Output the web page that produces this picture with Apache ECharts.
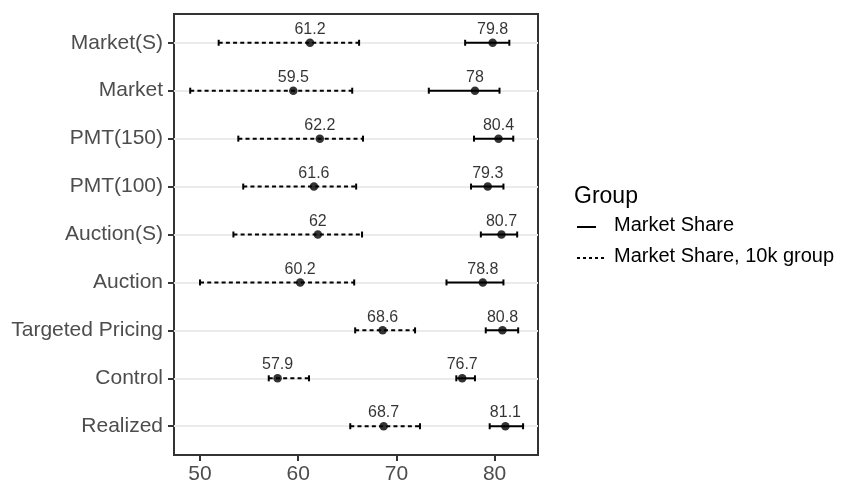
<!DOCTYPE html>
<html>
<head>
<meta charset="utf-8">
<script src="https://cdn.jsdelivr.net/npm/echarts@6/dist/echarts.min.js"></script>
<style>
  html, body { margin: 0; padding: 0; background: #fff; }
  #chart { width: 846px; height: 487px; }
</style>
</head>
<body>
<div id="chart"></div>
<script>
// 类别（从上到下）
const categories = ['Market(S)', 'Market', 'PMT(150)', 'PMT(100)', 'Auction(S)', 'Auction', 'Targeted Pricing', 'Control', 'Realized'];

// Market Share（实线）
const shareMean = [79.8, 78, 80.4, 79.3, 80.7, 78.8, 80.8, 76.7, 81.1];
const shareLow  = [77.0, 73.3, 77.9, 77.6, 78.6, 75.1, 79.1, 76.1, 79.5];
const shareHigh = [81.5, 80.5, 81.9, 80.9, 82.3, 80.9, 82.4, 78.0, 82.9];

// Market Share, 10k group（虚线）
const tenkMean = [61.2, 59.5, 62.2, 61.6, 62, 60.2, 68.6, 57.9, 68.7];
const tenkLow  = [51.9, 49.0, 53.9, 54.4, 53.4, 50.0, 65.8, 57.0, 65.3];
const tenkHigh = [66.2, 65.5, 66.6, 65.9, 66.5, 65.7, 71.9, 61.1, 72.4];

const xTicks = [50, 60, 70, 80];

const FONT = 'Liberation Sans, Arial, sans-serif';
const idx = categories.map((c, i) => i);

function barData(low, high) {
  return idx.map(i => [low[i], high[i], i]);
}
function pointData(mean) {
  return idx.map(i => [mean[i], i]);
}

// 误差条绘制
function makeErrorBar(dashed) {
  return function (params, api) {
    const y = api.value(2);
    const p1 = api.coord([api.value(0), y]);
    const p2 = api.coord([api.value(1), y]);
    const cap = 3;
    const style = {
      stroke: '#000',
      lineWidth: 2,
      lineDash: dashed ? [4, 3.2] : null
    };
    return {
      type: 'group',
      children: [
        { type: 'line', shape: { x1: p1[0], y1: p1[1], x2: p2[0], y2: p2[1] }, style: style },
        { type: 'line', shape: { x1: p1[0], y1: p1[1] - cap, x2: p1[0], y2: p1[1] + cap }, style: { stroke: '#000', lineWidth: 2 } },
        { type: 'line', shape: { x1: p2[0], y1: p2[1] - cap, x2: p2[0], y2: p2[1] + cap }, style: { stroke: '#000', lineWidth: 2 } }
      ]
    };
  };
}

function pointSeries(name, mean) {
  return {
    name: name,
    type: 'scatter',
    data: pointData(mean),
    symbol: 'circle',
    symbolSize: 8.5,
    z: 5,
    itemStyle: { color: '#000' },
    label: {
      show: true,
      position: 'top',
      distance: 1,
      color: '#000',
      fontFamily: FONT,
      fontSize: 16,
      formatter: p => String(p.value[0])
    }
  };
}

const chart = echarts.init(document.getElementById('chart'));

const option = {
  backgroundColor: '#fff',
  animation: false,
  grid: {
    left: 174, right: 308, top: 14, bottom: 32,
    show: true,
    borderColor: '#333333',
    borderWidth: 2,
    backgroundColor: 'transparent'
  },
  xAxis: {
    type: 'value',
    min: 47.35,
    max: 84.42,
    axisLine: { show: false, onZero: false },
    splitLine: { show: false },
    axisTick: { show: true, length: 6, customValues: xTicks, lineStyle: { color: '#333333', width: 2 } },
    axisLabel: {
      customValues: xTicks,
      color: '#4D4D4D',
      fontFamily: FONT,
      fontSize: 21,
      margin: 9
    }
  },
  yAxis: {
    type: 'value',
    min: -0.6,
    max: 8.6,
    inverse: true,
    axisLine: { show: false, onZero: false },
    splitLine: { show: true, lineStyle: { color: '#EBEBEB', width: 2 } },
    axisTick: { show: true, length: 6, customValues: idx, lineStyle: { color: '#333333', width: 2 } },
    axisLabel: {
      customValues: idx,
      color: '#4D4D4D',
      fontFamily: FONT,
      fontSize: 21,
      margin: 11,
      formatter: v => categories[Math.round(v)] || ''
    }
  },
  series: [
    {
      name: 'Market Share',
      type: 'custom',
      renderItem: makeErrorBar(false),
      encode: { x: [0, 1], y: 2 },
      data: barData(shareLow, shareHigh),
      z: 3
    },
    {
      name: 'Market Share, 10k group',
      type: 'custom',
      renderItem: makeErrorBar(true),
      encode: { x: [0, 1], y: 2 },
      data: barData(tenkLow, tenkHigh),
      z: 3
    },
    pointSeries('Market Share', shareMean),
    pointSeries('Market Share, 10k group', tenkMean)
  ],
  graphic: [
    { type: 'text', left: 574, top: 185, style: { text: 'Group', fontFamily: FONT, fontSize: 23, fill: '#000' } },
    { type: 'line', shape: { x1: 577, y1: 227, x2: 596, y2: 227 }, style: { stroke: '#000', lineWidth: 2 } },
    { type: 'text', left: 614, top: 215, style: { text: 'Market Share', fontFamily: FONT, fontSize: 20, fill: '#000' } },
    { type: 'line', shape: { x1: 577, y1: 258, x2: 605, y2: 258 }, style: { stroke: '#000', lineWidth: 2, lineDash: [3, 3] } },
    { type: 'text', left: 614, top: 246, style: { text: 'Market Share, 10k group', fontFamily: FONT, fontSize: 20, fill: '#000' } }
  ]
};

chart.setOption(option);
</script>
</body>
</html>
